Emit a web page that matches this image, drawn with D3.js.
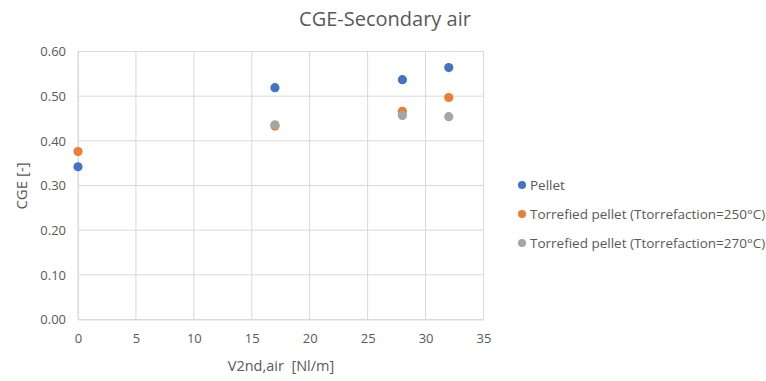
<!DOCTYPE html>
<html><head><meta charset="utf-8">
<script src="https://cdn.jsdelivr.net/npm/d3@7"></script>
<style>body{margin:0;background:#fff}svg{display:block}text{font-family:"Open Sans",sans-serif;fill:#595959}</style>
</head><body><svg id="c" width="766" height="381"></svg>
<script>
const seriesNames = ["Pellet","Torrefied pellet (Ttorrefaction=250°C)","Torrefied pellet (Ttorrefaction=270°C)"];
const seriesColors = ["#4472C4","#ED7D31","#A5A5A5"];
const pelletX = [0,17,28,32];
const pelletY = [0.342,0.519,0.537,0.564];
const t250X = [0,17,28,32];
const t250Y = [0.376,0.433,0.466,0.497];
const t270X = [17,28,32];
const t270Y = [0.436,0.457,0.454];
const xTicks = [0,5,10,15,20,25,30,35];
const yTicks = [0,0.1,0.2,0.3,0.4,0.5,0.6];

const svg = d3.select("#c");
const x = d3.scaleLinear().domain([0,35]).range([78,483.5]);
const y = d3.scaleLinear().domain([0,0.6]).range([319.5,51.5]);

const g = svg.append("g");
g.selectAll(".hg").data(yTicks).join("line")
  .attr("x1",x(0)).attr("x2",x(35)).attr("y1",d=>y(d)).attr("y2",d=>y(d))
  .attr("stroke","#D9D9D9").attr("stroke-width",1);
g.selectAll(".vg").data(xTicks).join("line")
  .attr("y1",y(0)).attr("y2",y(0.6)).attr("x1",d=>x(d)).attr("x2",d=>x(d))
  .attr("stroke","#D9D9D9").attr("stroke-width",1);

const xAxis = svg.append("g").attr("transform",`translate(0,${y(0)})`)
  .call(d3.axisBottom(x).tickValues(xTicks).tickSize(0).tickPadding(14).tickFormat(d3.format("d")));
xAxis.select(".domain").attr("stroke","#D9D9D9");
xAxis.selectAll("text").style("font-size","13px").attr("fill","#595959");

const yAxis = svg.append("g").attr("transform",`translate(${x(0)},0)`)
  .call(d3.axisLeft(y).tickValues(yTicks).tickSize(0).tickPadding(12).tickFormat(d3.format(".2f")));
yAxis.select(".domain").attr("stroke","#D9D9D9");
yAxis.selectAll("text").style("font-size","13px").attr("fill","#595959");

svg.append("text").attr("x",385).attr("y",26).attr("text-anchor","middle")
  .style("font-size","20px").text("CGE-Secondary air");
svg.append("text").attr("x",281).attr("y",371).attr("text-anchor","middle")
  .style("font-size","14.5px").attr("xml:space","preserve").text("V2nd,air  [Nl/m]");
svg.append("text").attr("transform","translate(27,186) rotate(-90)").attr("text-anchor","middle")
  .style("font-size","15px").text("CGE [-]");

const data = [
  pelletX.map((v,i)=>({x:v,y:pelletY[i]})),
  t250X.map((v,i)=>({x:v,y:t250Y[i]})),
  t270X.map((v,i)=>({x:v,y:t270Y[i]}))
];
data.forEach((pts,si)=>{
  svg.append("g").selectAll("circle").data(pts).join("circle")
    .attr("cx",d=>x(d.x)).attr("cy",d=>y(d.y)).attr("r",4.6)
    .attr("fill",seriesColors[si]);
});

const leg = svg.append("g");
seriesNames.forEach((n,i)=>{
  const yy = 185 + i*29;
  leg.append("circle").attr("cx",522).attr("cy",yy).attr("r",4).attr("fill",seriesColors[i]);
  leg.append("text").attr("x",530).attr("y",yy+5).style("font-size","13.5px").text(n);
});
</script></body></html>
